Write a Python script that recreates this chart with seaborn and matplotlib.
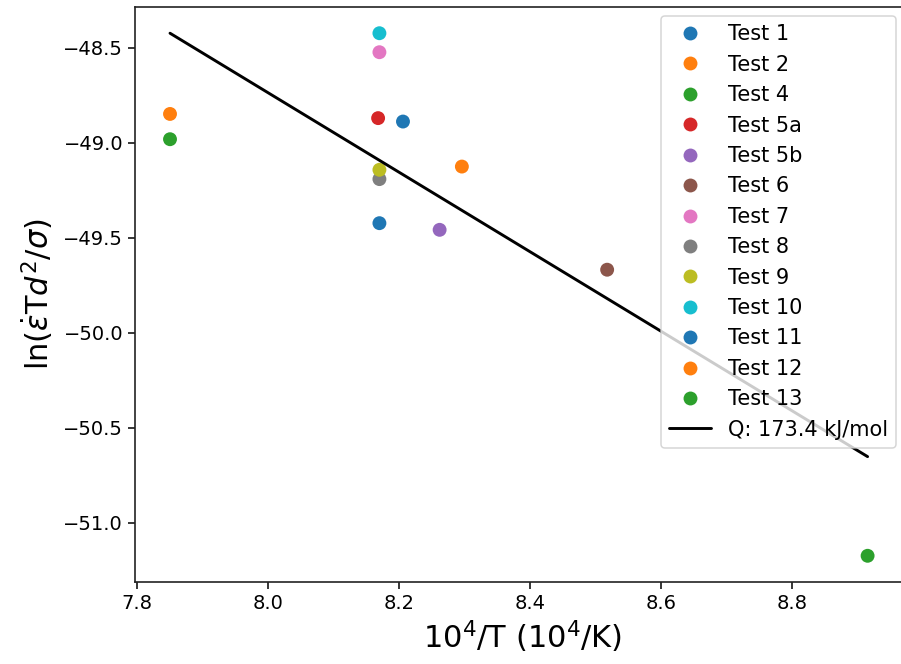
import matplotlib
matplotlib.use("Agg")
import matplotlib.pyplot as plt
from matplotlib.lines import Line2D
import seaborn as sns
import pandas as pd

# ---- data ----
tests = ["Test 1", "Test 2", "Test 4", "Test 5a", "Test 5b", "Test 6", "Test 7",
         "Test 8", "Test 9", "Test 10", "Test 11", "Test 12", "Test 13"]
inv_T = [8.206, 7.850, 7.850, 8.168, 8.262, 8.518, 8.170,
         8.170, 8.170, 8.170, 8.170, 8.296, 8.916]
ln_val = [-48.888, -48.848, -48.981, -48.870, -49.458, -49.668, -48.523,
          -49.191, -49.142, -48.423, -49.423, -49.125, -51.174]
fit_x = [7.850, 8.916]
fit_y = [-48.423, -50.652]
fit_label = "Q: 173.4 kJ/mol"

sns.set_style("ticks")
plt.rcParams["font.family"] = ["DejaVu Sans"]
plt.rcParams["mathtext.fontset"] = "dejavusans"
for k in ["text.color", "axes.labelcolor", "xtick.color", "ytick.color", "axes.edgecolor"]:
    plt.rcParams[k] = "black"

base = sns.color_palette("tab10", 10)
palette = [base[i % 10] for i in range(len(tests))]

df = pd.DataFrame({"x": inv_T, "y": ln_val, "test": tests})

fig = plt.figure(figsize=(9.01, 6.64), dpi=100)
ax = fig.add_axes([135 / 901, (664 - 582) / 664, 775 / 901, 575 / 664])

sns.scatterplot(data=df, x="x", y="y", hue="test", hue_order=tests,
                palette=palette, s=100, linewidth=0, legend=False, ax=ax, zorder=2)
sns.lineplot(x=fit_x, y=fit_y, color="black", linewidth=2.1, ax=ax, zorder=3)

ax.set_xlim(7.7965, 7.7965 + 775 / 654.4)
ax.set_ylim(-51.312, -48.285)
ax.set_xticks([7.8, 8.0, 8.2, 8.4, 8.6, 8.8])
ax.set_yticks([-48.5, -49.0, -49.5, -50.0, -50.5, -51.0])
ax.tick_params(labelsize=14, length=5, width=1.1, color="black", labelcolor="black")
for s in ax.spines.values():
    s.set_linewidth(1.2)
    s.set_color("#222222")

ax.set_xlabel(r"$10^4$/T ($10^4$/K)", fontsize=22, labelpad=4)
ax.set_ylabel(r"ln($\dot{\varepsilon}$T$d^2/\sigma$)", fontsize=22, labelpad=6)

handles = [Line2D([], [], marker="o", ls="", color=c, markersize=10, markeredgewidth=0)
           for c in palette]
handles.append(Line2D([], [], color="black", lw=2.1))
labels = tests + [fit_label]
leg = ax.legend(handles, labels, loc="upper right", fontsize=15,
                bbox_to_anchor=(896 / 901, 1 - 16 / 664), bbox_transform=fig.transFigure,
                borderaxespad=0, frameon=True, fancybox=True, framealpha=0.8,
                edgecolor="#cccccc", labelspacing=0.5, handlelength=2.0,
                handletextpad=0.8, borderpad=0.4)
leg.get_frame().set_linewidth(1.1)
for t in leg.get_texts():
    t.set_color("black")

fig.savefig("out.png", dpi=100)
